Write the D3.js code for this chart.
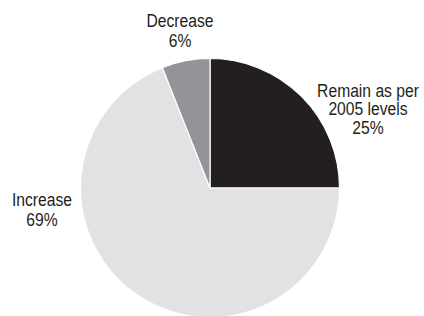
<!DOCTYPE html>
<html>
<head>
<meta charset="utf-8">
<script src="https://cdn.jsdelivr.net/npm/d3@7"></script>
<style>
  html, body { margin: 0; padding: 0; background: #fff; }
  svg { display: block; }
  text { font-family: "Liberation Sans", Arial, sans-serif; fill: #231f20; }
</style>
</head>
<body>
<div id="chart"></div>
<script>
// data
const categories = ['Remain as per 2005 levels', 'Increase', 'Decrease'];
const values = [25, 69, 6];
const colors = ['#231f20', '#e1e2e4', '#929497'];
// label lines for each slice
const labelLines = [
    ['Remain as per', '2005 levels', '25%'],
    ['Increase', '69%'],
    ['Decrease', '6%']
];

const width = 424;
const height = 316;
const cx = 210, cy = 188, radius = 129.5;
const squeeze = 0.87; // no condensed font installed, so narrow the text by hand

// where each label block is centred (x) and where its first baseline sits (y)
const labelPos = [
    { x: 368, y: 97, lh: 18.5 },
    { x: 42, y: 205.5, lh: 20.5 },
    { x: 180, y: 27, lh: 20 }
];

const svg = d3.select('#chart')
    .append('svg')
    .attr('width', width)
    .attr('height', height);

const pie = d3.pie()
    .sort(null)
    .value(d => d);

const arc = d3.arc()
    .innerRadius(0)
    .outerRadius(radius);

const g = svg.append('g')
    .attr('transform', `translate(${cx},${cy})`);

g.selectAll('path')
    .data(pie(values))
    .enter()
    .append('path')
    .attr('d', arc)
    .attr('fill', (d, i) => colors[i])
    .attr('stroke', '#fff')
    .attr('stroke-width', 1.2)
    .attr('stroke-linejoin', 'round');

// labels
const labels = svg.append('g')
    .selectAll('text')
    .data(categories)
    .enter()
    .append('text')
    .attr('text-anchor', 'middle')
    .attr('font-size', 18)
    .attr('transform', (d, i) => `translate(${labelPos[i].x},${labelPos[i].y}) scale(${squeeze},1)`);

labels.each(function(d, i) {
    d3.select(this).selectAll('tspan')
        .data(labelLines[i])
        .enter()
        .append('tspan')
        .attr('x', 0)
        .attr('dy', (t, j) => j === 0 ? 0 : labelPos[i].lh)
        .text(t => t);
});
</script>
</body>
</html>
